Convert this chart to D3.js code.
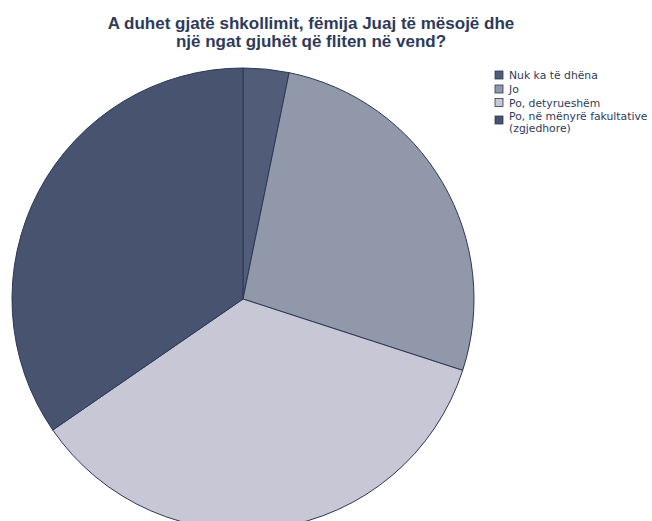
<!DOCTYPE html>
<html>
<head>
<meta charset="utf-8">
<script src="https://cdn.jsdelivr.net/npm/d3@7"></script>
<style>
  body { margin: 0; background: #fff; }
</style>
</head>
<body>
<svg width="652" height="521"></svg>
<script>
// data (share of answers, %)
categories = ["Nuk ka të dhëna", "Jo", "Po, detyrueshëm", "Po, në mënyrë fakultative (zgjedhore)"]
values = [3.2, 26.8, 35.4, 34.6]
legendLines = [["Nuk ka të dhëna"], ["Jo"], ["Po, detyrueshëm"], ["Po, në mënyrë fakultative", "(zgjedhore)"]]
colors = ["#515c79", "#9198a9", "#c7c7d5", "#47536f"]
titleLines = ["A duhet gjatë shkollimit, fëmija Juaj të mësojë dhe", "një ngat gjuhët që fliten në vend?"]

width = 652
height = 521
cx = 243
cy = 299
radius = 231

svg = d3.select("svg")

color = d3.scaleOrdinal().domain(categories).range(colors)

pie = d3.pie()
  .sort(null)
  .value(d => d.value)

arc = d3.arc()
  .innerRadius(0)
  .outerRadius(radius)

rows = categories.map((c, i) => ({name: c, value: values[i], lines: legendLines[i]}))

svg.append("g")
    .attr("transform", `translate(${cx},${cy})`)
  .selectAll("path")
  .data(pie(rows))
  .join("path")
    .attr("fill", d => color(d.data.name))
    .attr("stroke", "#2c3858")
    .attr("stroke-width", 1)
    .attr("d", arc)

// title
svg.append("text")
    .attr("font-family", "Liberation Sans, Arial, sans-serif")
    .attr("font-weight", "bold")
    .attr("font-size", 17)
    .attr("fill", "#2f3a5a")
    .attr("text-anchor", "middle")
  .selectAll("tspan")
  .data(titleLines)
  .join("tspan")
    .attr("x", 311)
    .attr("y", (d, i) => 29 + i * 18)
    .text(d => d)

// legend
legendY = [71, 85, 98.5, 116]
legend = svg.append("g")
    .attr("font-family", "DejaVu Sans, Verdana, sans-serif")
    .attr("font-size", 10.8)
    .attr("fill", "#2f3a5a")
  .selectAll("g")
  .data(rows)
  .join("g")
    .attr("transform", (d, i) => `translate(495,${legendY[i]})`)

legend.append("rect")
    .attr("width", 8)
    .attr("height", 8)
    .attr("fill", d => color(d.name))
    .attr("stroke", "#2c3858")
    .attr("stroke-width", 0.8)

legend.append("text")
  .selectAll("tspan")
  .data(d => d.lines.map((t, j) => ({t, j, n: d.lines.length})))
  .join("tspan")
    .attr("x", 14)
    .attr("y", d => d.n > 1 ? (d.j === 0 ? 3.5 : 16.3) : 8)
    .text(d => d.t)
</script>
</body>
</html>
